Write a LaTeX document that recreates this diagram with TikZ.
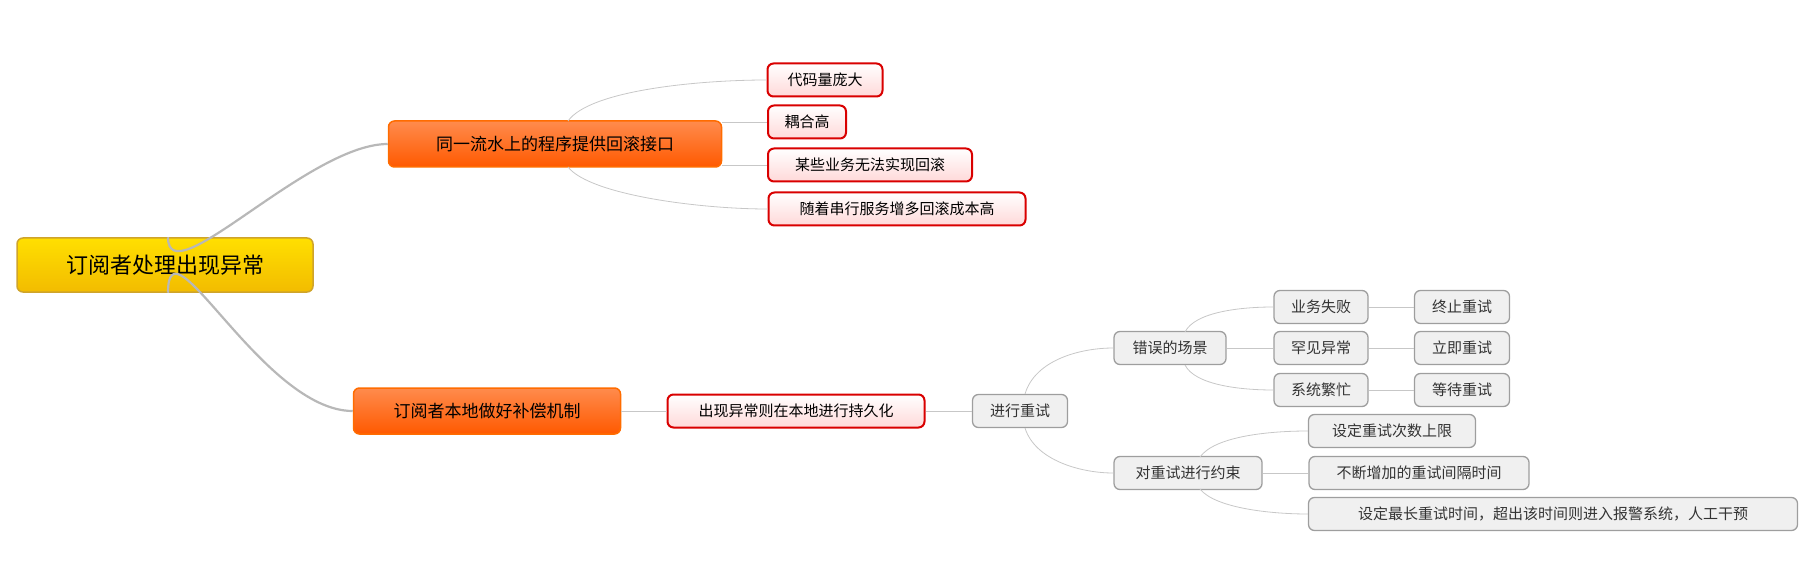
\documentclass[tikz,border=0pt]{standalone}
\usepackage{fontspec}
\setmainfont{Noto Sans CJK SC}
\begin{document}
\begin{tikzpicture}[x=1pt,y=-1pt,
 base/.style={rounded corners=6pt,minimum height=#1,inner sep=2pt,anchor=center},
 rootn/.style={base=54,draw=yellow!50!orange!80!black,line width=1.5pt,top color=yellow!75!orange,bottom color=yellow!55!orange!95!black,font=\fontsize{22}{24}\selectfont},
 orn/.style={base=46,draw=orange!85!red,line width=1.5pt,top color=orange!70!red!70!white,bottom color=orange!70!red,font=\fontsize{17}{19}\selectfont},
 redn/.style={base=33,draw=red!85!black,line width=2pt,top color=white,bottom color=red!15,font=\fontsize{15}{17}\selectfont},
 grayn/.style={base=33,draw=black!38,line width=1.3pt,fill=black!6,text=black!80,font=\fontsize{15}{17}\selectfont},
 thick line/.style={draw=black!28,line width=2.2pt},
 thin line/.style={draw=black!22,line width=0.8pt}]
\useasboundingbox (0,0) rectangle (1819,569);
\node[rootn,minimum width=296] (root) at (165,265) {订阅者处理出现异常};
\node[orn,minimum width=333] (a1) at (555,144) {同一流水上的程序提供回滚接口};
\node[orn,minimum width=267] (a2) at (487,411) {订阅者本地做好补偿机制};
\node[redn,minimum width=115] (c1) at (825,80) {代码量庞大};
\node[redn,minimum width=78] (c2) at (807,122) {耦合高};
\node[redn,minimum width=204] (c3) at (870,165) {某些业务无法实现回滚};
\node[redn,minimum width=257] (c4) at (897,209) {随着串行服务增多回滚成本高};
\node[redn,minimum width=257] (b) at (796,411) {出现异常则在本地进行持久化};
\node[grayn,minimum width=95] (c) at (1020,411) {进行重试};
\node[grayn,minimum width=112] (d1) at (1170,348) {错误的场景};
\node[grayn,minimum width=94] (e1) at (1321,307) {业务失败};
\node[grayn,minimum width=94] (e2) at (1321,348) {罕见异常};
\node[grayn,minimum width=94] (e3) at (1321,390) {系统繁忙};
\node[grayn,minimum width=95] (f1) at (1462,307) {终止重试};
\node[grayn,minimum width=95] (f2) at (1462,348) {立即重试};
\node[grayn,minimum width=95] (f3) at (1462,390) {等待重试};
\node[grayn,minimum width=148] (d2) at (1188,473) {对重试进行约束};
\node[grayn,minimum width=167] (g1) at (1392,431) {设定重试次数上限};
\node[grayn,minimum width=220] (g2) at (1419,473) {不断增加的重试间隔时间};
\node[grayn,minimum width=489] (g3) at (1553,514) {设定最长重试时间，超出该时间则进入报警系统，人工干预};
% connectors
\begin{scope}[on background layer/.style={}]
\path[thick line] (root.north) ++(3,0) coordinate (r1) .. controls ([yshift=-60]r1) and ([xshift=-80]a1.west) .. (a1.west);
\path[thick line] (root.south) ++(3,0) coordinate (r2) .. controls ([yshift=80]r2) and ([xshift=-90]a2.west) .. (a2.west);
\coordinate (a1t) at ([xshift=-2]a1.north east -| 568,121);
\coordinate (a1b) at (568,167);
\path[thin line] (568,121) .. controls (590,90) and (700,80) .. (c1.west);
\path[thin line] (a1.east |- c2) -- (c2.west);
\path[thin line] (a1.east |- c3) -- (c3.west);
\path[thin line] (568,167) .. controls (590,195) and (700,209) .. (c4.west);
\path[thin line] (a2) -- (b);
\path[thin line] (b) -- (c);
\path[thin line] (1025,394) .. controls (1035,360) and (1080,348) .. (d1.west);
\path[thin line] (1025,428) .. controls (1035,460) and (1080,473) .. (d2.west);
\path[thin line] (1185,332) .. controls (1195,312) and (1240,307) .. (e1.west);
\path[thin line] (d1) -- (e2);
\path[thin line] (1185,365) .. controls (1195,385) and (1240,390) .. (e3.west);
\path[thin line] (e1) -- (f1);
\path[thin line] (e2) -- (f2);
\path[thin line] (e3) -- (f3);
\path[thin line] (1200,457) .. controls (1215,436) and (1270,431) .. (g1.west);
\path[thin line] (d2) -- (g2);
\path[thin line] (1200,489) .. controls (1215,508) and (1270,514) .. (g3.west);
\end{scope}
\end{tikzpicture}
\end{document}
